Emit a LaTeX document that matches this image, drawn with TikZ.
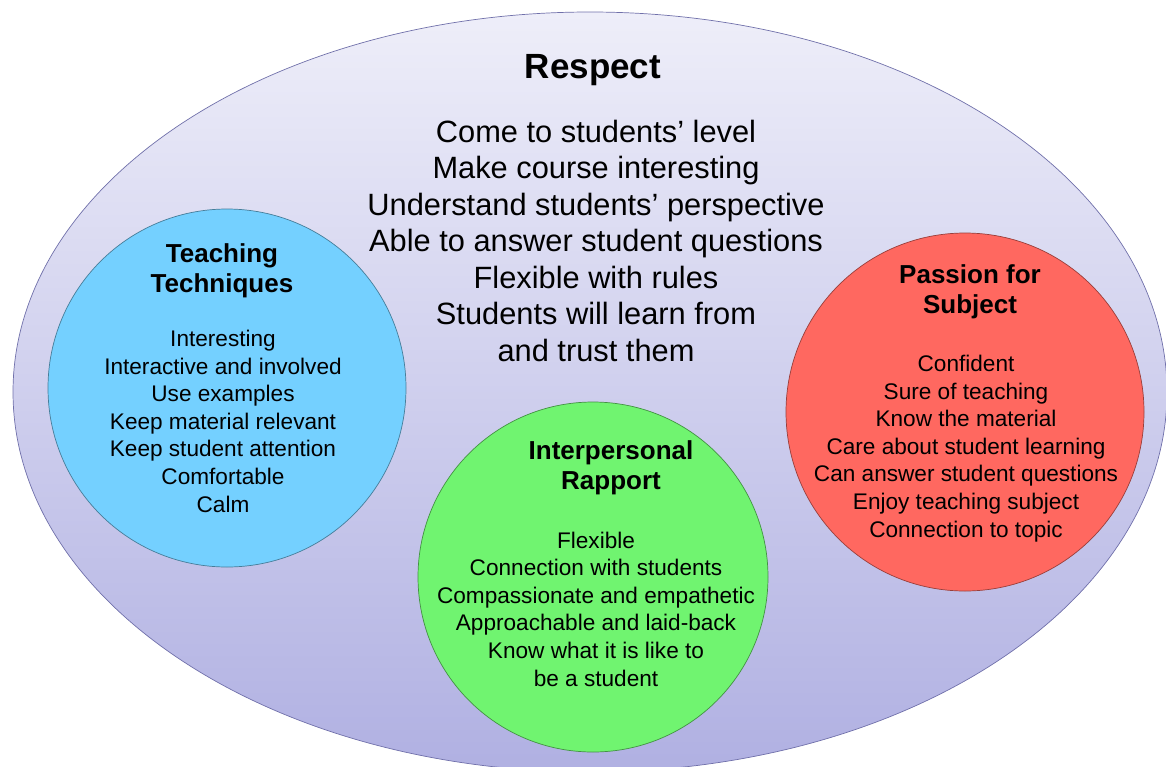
\documentclass[tikz,border=0pt]{standalone}
\usepackage{fontspec}
\setmainfont{Liberation Sans}
\usetikzlibrary{shapes.geometric}

\definecolor{ovaltop}{RGB}{238,238,249}
\definecolor{ovalmid}{RGB}{220,220,239}
\definecolor{ovalbot}{RGB}{176,176,226}
\definecolor{ovalline}{RGB}{112,112,170}
\definecolor{teachblue}{RGB}{116,208,255}
\definecolor{rapportgreen}{RGB}{112,244,112}
\definecolor{passionred}{RGB}{255,104,96}

% multi-line nodes sit on the baseline of their last line
\tikzset{
  bubble/.style={circle, draw=#1!60!black, fill=#1, line width=0.7pt, inner sep=0pt},
  headtext/.style={anchor=base, inner sep=0pt, align=center, font=\fontsize{26}{30}\selectfont\bfseries},
  listtext/.style={anchor=base, inner sep=0pt, align=center, font=\fontsize{22.6}{27.6}\selectfont},
}

\begin{document}
\begin{tikzpicture}[x=1pt, y=-1pt]
    \useasboundingbox (0,0) rectangle (1166,766);
    % outer oval
    \node[ellipse, draw=ovalline, line width=0.7pt, top color=ovaltop, middle color=ovalmid, bottom color=ovalbot,
          minimum width=1154pt, minimum height=760pt, inner sep=0pt] (respect) at (590,392) {};
    \node[anchor=base, inner sep=0pt, font=\fontsize{35}{40}\selectfont\bfseries] (respecthead) at (593,78) {Respect};
    \node[anchor=base, inner sep=0pt, align=center, font=\fontsize{30.8}{36.5}\selectfont] (respectlist) at (596,361)
        {Come to students' level\\Make course interesting\\Understand students' perspective\\Able to answer student questions\\Flexible with rules\\Students will learn from\\and trust them};
    % three circles
    \node[bubble=teachblue, minimum size=358pt] (teach) at (227,388) {};
    \node[bubble=rapportgreen, minimum size=350pt] (rapport) at (593,577) {};
    \node[bubble=passionred, minimum size=358pt] (passion) at (965,412) {};
    % teaching techniques
    \node[headtext] (teachhead) at (222,292) {Teaching\\Techniques};
    \node[listtext] (teachlist) at (223,512)
        {Interesting\\Interactive and involved\\Use examples\\Keep material relevant\\Keep student attention\\Comfortable\\Calm};
    % interpersonal rapport
    \node[headtext] (rapporthead) at (611,489) {Interpersonal\\Rapport};
    \node[listtext] (rapportlist) at (596,686)
        {Flexible\\Connection with students\\Compassionate and empathetic\\Approachable and laid-back\\Know what it is like to\\be a student};
    % passion for subject
    \node[headtext] (passionhead) at (970,313) {Passion for\\Subject};
    \node[listtext] (passionlist) at (966,537)
        {Confident\\Sure of teaching\\Know the material\\Care about student learning\\Can answer student questions\\Enjoy teaching subject\\Connection to topic};
\end{tikzpicture}
\end{document}
